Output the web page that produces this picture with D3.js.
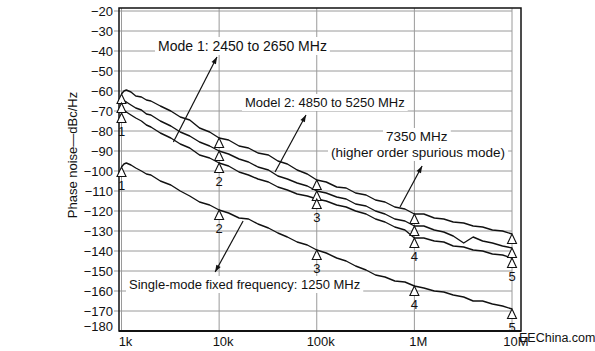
<!DOCTYPE html>
<meta charset="utf-8">
<head>
<style>
body { margin: 0; background: #fff; }
text { font-family: "Liberation Sans", Arial, sans-serif; fill: #111; }
.grid line { stroke: #9a9a9a; stroke-width: 1; }
.curve { fill: none; stroke: #111; stroke-width: 1.4; stroke-linejoin: round; }
.mark { fill: #fff; stroke: #111; stroke-width: 1.1; }
</style>
</head>
<body>
<svg width="595" height="351"></svg>
<script src="https://d3js.org/d3.v7.min.js"></script>
<script>
// offset frequency (Hz)
const freqs = [1e3, 1.06e3, 1.12e3, 1.25e3, 1.4e3, 1.6e3, 1.8e3, 2e3, 2.5e3, 3.2e3,
  4e3, 5e3, 6.3e3, 8e3, 1e4, 1.25e4, 1.6e4, 2e4, 2.5e4, 3.2e4,
  4e4, 5e4, 6.3e4, 8e4, 1e5, 1.25e5, 1.6e5, 2e5, 2.5e5, 3.2e5,
  4e5, 5e5, 6.3e5, 8e5, 1e6, 1.25e6, 1.6e6, 2e6, 2.5e6, 3.2e6,
  4e6, 5e6, 6.3e6, 8e6, 1e7];

// phase noise, dBc/Hz
const spurious7350 = [-61.5, -60, -59.5, -60.5, -62.5, -63, -64.5, -65, -67.5, -70,
  -73, -74.5, -78.5, -80.5, -83.5, -84.5, -87.5, -88.5, -91, -92,
  -95, -96.5, -99.5, -101.5, -104.5, -105.5, -108, -108.5, -111, -112,
  -114.5, -115.5, -118, -119, -121.5, -121.5, -123.5, -124, -125.5, -126,
  -127.5, -128, -129.5, -130, -131.5];
const model2 = [-66, -65, -65.5, -67, -68.5, -69.5, -71.5, -72, -75, -77.5,
  -80.5, -82.5, -85.5, -87.5, -90, -91.5, -94, -95.5, -98, -99.5,
  -102.5, -104, -106, -107.5, -110, -111, -113, -114, -116.5, -117.5,
  -120, -121.5, -124, -125, -127.5, -127.5, -129.5, -130.5, -132.5, -136,
  -133, -135, -136, -137.5, -138.5];
const mode1 = [-71, -70, -70.5, -72, -73.5, -75, -77, -78, -81, -83.5,
  -86.5, -88.5, -92, -93.5, -96, -97.5, -100.5, -102, -104, -105.5,
  -108, -109.5, -111.5, -112.5, -114, -115, -117, -118, -120, -121.5,
  -124, -125.5, -128, -129.5, -133.5, -133.5, -135, -135.5, -137.5, -138,
  -139.5, -140, -141.5, -142, -143.5];
const singleMode = [-98, -96.5, -96, -97, -98.5, -100, -101.5, -102, -105, -107,
  -110, -112.5, -115.5, -117, -119.5, -121, -123.5, -124, -126.5, -128.5,
  -131, -133, -135.5, -137, -139.5, -141, -143.5, -145, -147.5, -149.5,
  -152, -153, -155, -155.5, -157.5, -158.5, -160, -160.5, -162, -163,
  -165, -165, -166.5, -167.5, -169];

const markerFreqs = [1e3, 1e4, 1e5, 1e6, 1e7];
const markerNames = ['1', '2', '3', '4', '5'];
const yTicks = d3.range(-180, -19, 10);
const xTickLabels = ['1k', '10k', '100k', '1M', '10M'];

let svg = d3.select('svg');
let x = d3.scaleLog().domain([1e3, 1e7]).range([121.5, 512]);
let y = d3.scaleLinear().domain([-180, -20]).range([331, 11]);

// grid
let grid = svg.append('g').attr('class', 'grid');
grid.selectAll('.h')
    .data(yTicks.filter(d => d > -180))
    .enter().append('line')
    .attr('x1', 114).attr('x2', x(1e7))
    .attr('y1', d => y(d)).attr('y2', d => y(d));
grid.selectAll('.v')
    .data(markerFreqs)
    .enter().append('line')
    .attr('x1', d => x(d)).attr('x2', d => x(d))
    .attr('y1', 8).attr('y2', 331);

// labels with white boxes (drawn before curves so curves stay on top)
const notes = [
    { t: 'Mode 1: 2450 to 2650 MHz', x: 158, y: 51, s: 14 },
    { t: 'Model 2: 4850 to 5250 MHz', x: 245, y: 107, s: 13 },
    { t: '7350 MHz', x: 386, y: 141, s: 13.5 },
    { t: '(higher order spurious mode)', x: 331, y: 157, s: 13.5 },
    { t: 'Single-mode fixed frequency: 1250 MHz', x: 129, y: 289, s: 13 }
];
let noteG = svg.append('g');
notes.forEach(n => {
    let t = noteG.append('text')
        .attr('x', n.x).attr('y', n.y)
        .attr('font-size', n.s)
        .text(n.t);
    let b = t.node().getBBox();
    noteG.insert('rect', 'text')
        .attr('x', b.x - 3).attr('y', b.y - 1)
        .attr('width', b.width + 6).attr('height', b.height + 2)
        .attr('fill', '#fff');
});

// frame
svg.append('rect')
    .attr('x', 119).attr('y', 8)
    .attr('width', 402).attr('height', 323)
    .attr('fill', 'none').attr('stroke', '#111').attr('stroke-width', 1.5);
svg.append('line')
    .attr('x1', 119).attr('x2', 521).attr('y1', 331).attr('y2', 331)
    .attr('stroke', '#111').attr('stroke-width', 2);

// axis labels
svg.append('g').selectAll('text')
    .data(yTicks)
    .enter().append('text')
    .attr('x', 113)
    .attr('y', d => y(d) + 4.5 - (d === -180 ? 5 : 0))
    .attr('text-anchor', 'end')
    .attr('font-size', 13)
    .text(d => d3.format('d')(d).replace('-', '\u2212'));
svg.append('g').selectAll('text')
    .data(markerFreqs)
    .enter().append('text')
    .attr('x', (d) => x(d) + 4)
    .attr('y', 346)
    .attr('text-anchor', 'middle')
    .attr('font-size', 13)
    .text((d, i) => xTickLabels[i]);
svg.append('text')
    .attr('transform', 'translate(77,155) rotate(-90)')
    .attr('text-anchor', 'middle')
    .attr('font-size', 13)
    .text('Phase noise\u2014dBc/Hz');

// annotation arrows, [base on curve, tip at label]
const arrows = [
    [[3400, -85.5], [9500, -43]],
    [[37400, -100.5], [77600, -72]],
    [[713000, -118], [1.2e6, -97.5]],
    [[17600, -125], [9100, -150.5]]
];
arrows.forEach(a => {
    let x0 = x(a[0][0]), y0 = y(a[0][1]), x1 = x(a[1][0]), y1 = y(a[1][1]);
    svg.append('line')
        .attr('x1', x0).attr('y1', y0).attr('x2', x1).attr('y2', y1)
        .attr('stroke', '#111').attr('stroke-width', 1.2);
    let ang = Math.atan2(y1 - y0, x1 - x0) * 180 / Math.PI;
    svg.append('path')
        .attr('d', 'M0,0 L-7,-2.5 L-7,2.5 Z')
        .attr('transform', `translate(${x1},${y1}) rotate(${ang})`)
        .attr('fill', '#111');
});

// curves
const series = [spurious7350, model2, mode1, singleMode];
let line = d3.line()
    .x((d, i) => x(freqs[i]))
    .y(d => y(d));
svg.append('g').selectAll('path')
    .data(series)
    .enter().append('path')
    .attr('class', 'curve')
    .attr('d', d => line(d));

// decade markers
series.forEach((s, si) => {
    markerFreqs.forEach((f, i) => {
        let v = s[freqs.indexOf(f)];
        svg.append('path')
            .attr('class', 'mark')
            .attr('d', 'M0,0 L4.5,9.5 L-4.5,9.5 Z')
            .attr('transform', `translate(${x(f)},${y(v)})`);
        if (si >= 2) {
            svg.append('text')
                .attr('x', x(f)).attr('y', y(v) + 22.5)
                .attr('text-anchor', 'middle')
                .attr('font-size', 13)
                .text(markerNames[i]);
        }
    });
});

// source mark
svg.append('text')
    .attr('x', 519).attr('y', 342)
    .attr('font-size', 12.5)
    .text('EEChina.com');
</script>
</body>
</html>
